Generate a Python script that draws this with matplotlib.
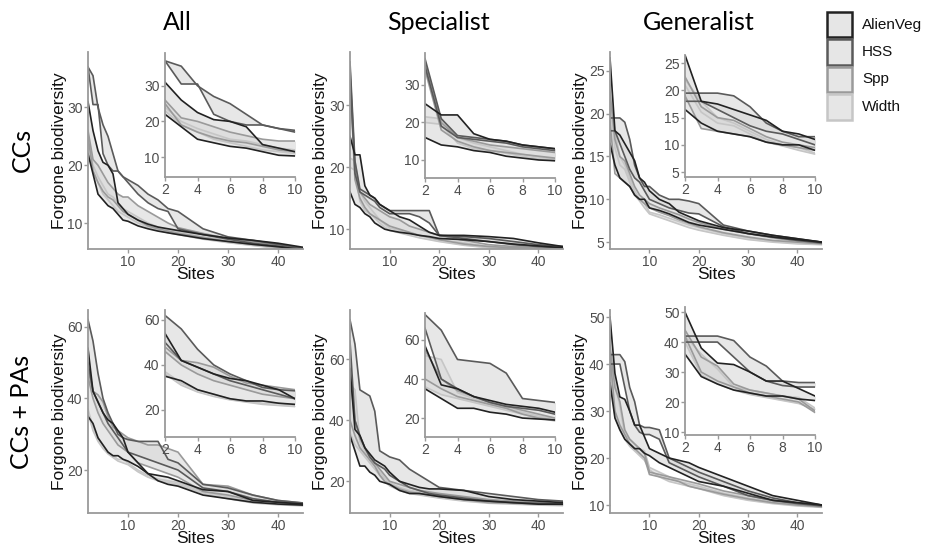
import matplotlib
matplotlib.use('Agg')
import matplotlib.pyplot as plt
from matplotlib.patches import Rectangle

# -------------------------------------------------------------------------------------------------------------------- #
# DATA (upper / lower edge of each ribbon)

sites = [2, 3, 4, 5, 6, 7, 8, 9, 10, 12, 14, 16, 18, 20, 25, 30, 35, 40, 45]
methods = ['AlienVeg', 'HSS', 'Spp', 'Width']
col_titles = ['All', 'Specialist', 'Generalist']
row_titles = ['CCs', 'CCs + PAs']

# All - CCs
all_ccs_alien_hi = [31, 26, 22.5, 20.5, 20, 18.5, 13.5, 12.5, 11.5, 10.5, 9.8, 9.3, 9, 8.7, 8, 7.4, 7, 6.5, 5.8]
all_ccs_alien_lo = [22, 18.5, 15, 14, 13, 12.5, 11.5, 10.5, 10.3, 9.5, 9, 8.6, 8.3, 8, 7.3, 6.8, 6.3, 5.9, 5.4]
all_ccs_hss_hi = [37, 35.5, 30, 27, 25, 22, 19, 18, 17.5, 16.5, 15, 14, 12.5, 12, 9, 7.6, 7, 6.3, 5.6]
all_ccs_hss_lo = [37, 30.5, 30.5, 22, 20, 19, 19, 18, 17, 15, 13.5, 12.5, 12, 9, 8, 7.2, 6.5, 6, 5.3]
all_ccs_spp_hi = [26, 21, 20, 18.5, 17, 16, 15, 14.5, 14.5, 13, 12, 11, 10, 9.2, 8.2, 7.3, 6.8, 6.2, 5.5]
all_ccs_spp_lo = [25, 19, 17, 15.5, 14.5, 14, 13, 12, 11.5, 10.5, 9.5, 9, 8.6, 8.2, 7.5, 6.8, 6.3, 5.8, 5.3]
all_ccs_width_hi = [24, 20, 18, 16.5, 15, 14.5, 13.5, 12.5, 12, 11, 10, 9.3, 8.8, 8.4, 7.6, 7, 6.4, 5.9, 5.3]
all_ccs_width_lo = [23, 19, 17, 15, 14, 13, 12, 11.5, 11, 10, 9.3, 8.8, 8.3, 8, 7.2, 6.6, 6.1, 5.6, 5.1]

# Specialist - CCs
spe_ccs_alien_hi = [25, 22, 22, 17, 15.5, 15, 14, 13.5, 13, 12, 11.5, 10.5, 9.5, 9, 9, 8.8, 8.5, 7.8, 7.2]
spe_ccs_alien_lo = [16, 14, 13.5, 12.5, 12, 11, 10.5, 10, 9.8, 9.5, 9.3, 9, 8.8, 8.5, 8.3, 8, 7.6, 7.3, 7]
spe_ccs_hss_hi = [37, 21, 16.5, 16, 15.5, 15, 14, 13.5, 13, 13, 13, 13, 13, 9, 8.8, 8.5, 8, 7.5, 7.2]
spe_ccs_hss_lo = [35, 19, 16, 15.5, 15, 14.5, 13.5, 13, 12.5, 12.5, 12.5, 12, 11, 9, 8.5, 8, 7.5, 7.2, 7]
spe_ccs_spp_hi = [36, 20, 16, 15, 14, 13.5, 13, 12.5, 12, 11.5, 10.5, 10, 9.5, 9, 8.2, 7.5, 7.2, 7, 7]
spe_ccs_spp_lo = [34, 18, 15, 13.5, 12.5, 12, 11.5, 11, 10.5, 10, 9.5, 9, 8.7, 8.3, 7.6, 7.2, 7, 7, 7]
spe_ccs_width_hi = [21.5, 21, 16, 14.5, 13.5, 12.5, 11.5, 10.8, 10.2, 9.8, 9.4, 9, 8.6, 8.3, 7.8, 7.2, 7, 7, 7]
spe_ccs_width_lo = [20, 19.5, 14.5, 13, 12.5, 11.8, 11, 10.3, 9.8, 9.4, 9, 8.6, 8.3, 8, 7.4, 7, 6.9, 6.9, 6.9]

# Generalist - CCs
gen_ccs_alien_hi = [26.5, 18, 17.5, 16.5, 15.5, 14.5, 12.5, 12, 11, 10, 9.5, 8.5, 8, 7.5, 6.7, 6.3, 5.8, 5.4, 5]
gen_ccs_alien_lo = [16.5, 14, 12.5, 12, 11.5, 10.5, 10, 10, 9, 8.7, 8.3, 7.8, 7.3, 7, 6.5, 6, 5.6, 5.3, 5]
gen_ccs_hss_hi = [19.5, 19.5, 19.5, 19, 17, 14, 12.5, 11.5, 11.5, 10.5, 10, 10, 9.8, 9.5, 7, 6.3, 5.8, 5.4, 5]
gen_ccs_hss_lo = [18, 18, 16.5, 15, 13.5, 12.5, 12, 11, 10, 9.5, 9, 8.7, 8.4, 8.3, 6.8, 6, 5.6, 5.2, 4.9]
gen_ccs_spp_hi = [22.5, 17, 15, 14.5, 13, 11.5, 10.5, 10, 9.5, 9, 8.6, 8.2, 7.7, 7.3, 6.5, 6, 5.5, 5.1, 4.9]
gen_ccs_spp_lo = [19, 13, 12.5, 12, 11.5, 10.5, 10, 9.5, 9, 8.5, 8.1, 7.6, 7.2, 6.8, 6.1, 5.6, 5.2, 5, 4.8]
gen_ccs_width_hi = [22, 18, 15, 14, 12.5, 11, 10, 9.5, 8.5, 8.2, 7.8, 7.4, 7, 6.7, 6, 5.5, 5.1, 4.9, 4.8]
gen_ccs_width_lo = [21, 16, 14, 13.5, 12, 10.5, 9.8, 9, 8.3, 7.9, 7.5, 7.1, 6.7, 6.4, 5.8, 5.3, 5, 4.8, 4.7]

# All - CCs + PAs
all_pas_alien_hi = [54, 42, 39, 36, 34, 33, 31, 29, 25, 22, 19, 18.5, 18, 17, 14.5, 14, 11.5, 11, 10.5]
all_pas_alien_lo = [35, 33, 29, 27, 25, 24, 24, 23, 22.5, 21, 19, 17, 16, 15.5, 13, 12, 11, 10.5, 10.2]
all_pas_hss_hi = [62, 56, 47, 40, 36, 33, 30, 29, 28.5, 28, 28, 28, 23, 22, 16, 15, 13, 11.5, 10.8]
all_pas_hss_lo = [50, 42, 39, 36, 33, 31, 29, 27, 25, 24, 23, 22, 21, 20, 15, 14, 12, 11, 10.5]
all_pas_spp_hi = [48, 42, 41, 39, 35, 32, 31, 30, 29, 28, 27, 27, 26, 25, 16, 15.5, 13, 11.5, 10.8]
all_pas_spp_lo = [46, 40, 36, 33, 31, 29, 27, 26, 25, 22, 21, 20, 19, 18, 14, 13, 11.5, 11, 10.5]
all_pas_width_hi = [37, 32, 29, 27, 25, 24, 23, 23, 22, 20, 18.5, 17.5, 17, 16.5, 14, 12.5, 11, 10.5, 10.3]
all_pas_width_lo = [36, 31, 28, 26, 24.5, 23.5, 22.5, 22, 21.5, 19.5, 18, 17, 16.5, 16, 13.5, 12, 10.8, 10.3, 10]

# Specialist - CCs + PAs
spe_pas_alien_hi = [57, 37, 35, 31, 29, 27, 26, 25, 23, 20, 19, 18, 17.5, 17.5, 17, 15, 14, 13.5, 13]
spe_pas_alien_lo = [35, 30, 25, 25, 23, 22, 20, 19.5, 19, 17, 16, 16, 15.5, 15, 14, 13.5, 13, 12.5, 12.5]
spe_pas_hss_hi = [73, 65, 50, 49, 48, 43, 30, 29, 28, 27, 24, 22, 20, 18, 17, 16, 15, 14, 13.5]
spe_pas_hss_lo = [66, 40, 35, 31, 28, 26, 25, 24, 22, 20, 18, 17, 16, 15.5, 14.5, 13.5, 13, 12.8, 12.5]
spe_pas_spp_hi = [55, 40, 34, 31, 28, 26, 24, 22, 20, 19, 18, 17, 16.5, 16, 15, 14, 13.5, 13, 12.8]
spe_pas_spp_lo = [40, 35, 31, 29, 27, 25, 22, 20, 19, 17.5, 16.5, 16, 15.5, 15, 14, 13, 12.8, 12.5, 12.3]
spe_pas_width_hi = [52, 50, 33, 30, 27, 25, 23, 21, 19.5, 18, 17, 16.5, 16, 15.5, 14.5, 13.5, 13, 12.6, 12.4]
spe_pas_width_lo = [36, 32, 30, 28, 26, 24, 22, 20, 18.5, 17, 16, 15.5, 15, 14.5, 13.5, 12.8, 12.5, 12.2, 12]

# Generalist - CCs + PAs
gen_pas_alien_hi = [50, 38, 33, 32.5, 30, 27, 27, 24.5, 22, 21, 20, 19.5, 19, 18, 16, 14, 12, 11, 10]
gen_pas_alien_lo = [36, 28.5, 26, 24, 23, 22, 22, 21, 20.5, 19, 18, 17, 16, 15, 14, 12.5, 11, 10.5, 10]
gen_pas_hss_hi = [42, 42, 42, 40.5, 35, 32, 27, 26.5, 26.5, 26, 20, 19, 18, 17, 15, 13, 11.5, 10.5, 10]
gen_pas_hss_lo = [40, 40, 40, 35, 30, 27, 25.5, 25, 25, 24, 19, 18, 17, 16, 14, 12, 11, 10.3, 9.8]
gen_pas_spp_hi = [44, 35, 32, 26, 24, 23, 22, 21, 17, 16.5, 16, 15.5, 15, 14.5, 13, 12, 11, 10.3, 9.8]
gen_pas_spp_lo = [42, 30, 27, 25, 23, 22, 21, 20, 16.5, 16, 15.5, 15, 14, 13.5, 12.3, 11.3, 10.5, 10, 9.6]
gen_pas_width_hi = [42, 36, 31, 25, 24, 23, 22, 21.5, 18, 17, 16, 15, 14.5, 14, 12.5, 11.5, 10.7, 10.1, 9.7]
gen_pas_width_lo = [40, 29, 26, 24, 22.5, 21.5, 20.5, 19.5, 17.5, 16, 15, 14.5, 14, 13.5, 12, 11, 10.3, 9.8, 9.5]

main_xticks = [10, 20, 30, 40]
inset_xticks = [2, 4, 6, 8, 10]
yticks = [[[10, 20, 30], [10, 20, 30], [5, 10, 15, 20, 25]],
          [[20, 40, 60], [20, 40, 60], [10, 20, 30, 40, 50]]]

# -------------------------------------------------------------------------------------------------------------------- #
# PANELS

panels = [
    [[(all_ccs_alien_hi, all_ccs_alien_lo), (all_ccs_hss_hi, all_ccs_hss_lo),
      (all_ccs_spp_hi, all_ccs_spp_lo), (all_ccs_width_hi, all_ccs_width_lo)],
     [(spe_ccs_alien_hi, spe_ccs_alien_lo), (spe_ccs_hss_hi, spe_ccs_hss_lo),
      (spe_ccs_spp_hi, spe_ccs_spp_lo), (spe_ccs_width_hi, spe_ccs_width_lo)],
     [(gen_ccs_alien_hi, gen_ccs_alien_lo), (gen_ccs_hss_hi, gen_ccs_hss_lo),
      (gen_ccs_spp_hi, gen_ccs_spp_lo), (gen_ccs_width_hi, gen_ccs_width_lo)]],
    [[(all_pas_alien_hi, all_pas_alien_lo), (all_pas_hss_hi, all_pas_hss_lo),
      (all_pas_spp_hi, all_pas_spp_lo), (all_pas_width_hi, all_pas_width_lo)],
     [(spe_pas_alien_hi, spe_pas_alien_lo), (spe_pas_hss_hi, spe_pas_hss_lo),
      (spe_pas_spp_hi, spe_pas_spp_lo), (spe_pas_width_hi, spe_pas_width_lo)],
     [(gen_pas_alien_hi, gen_pas_alien_lo), (gen_pas_hss_hi, gen_pas_hss_lo),
      (gen_pas_spp_hi, gen_pas_spp_lo), (gen_pas_width_hi, gen_pas_width_lo)]],
]

line_colors = ['#222222', '#5a5a5a', '#9a9a9a', '#c6c6c6']
fill_color = '#d8d8d8'
axis_color = '#9a9a9a'
tick_color = '#4d4d4d'

W, H = 936, 547
main_x = [(88, 303), (350, 563), (610, 822)]
main_y = [(52, 249), (310, 513)]
inset_x = [(165, 295), (425, 555), (685, 815)]
inset_y = [[(53, 177), (53, 178), (55, 177)], [(310, 437), (313, 437), (307, 435)]]
main_ylim = [[(5.5, 39.6), (6.8, 38.6), (4.2, 27.2)], [(8, 64.7), (9.6, 76.2), (8.3, 51.5)]]
inset_ylim = [[(4.4, 39.2), (5.2, 38.5), (4.1, 26.5)], [(8, 64.4), (10.3, 73.8), (9, 51.7)]]
ylab_x = [60, 321, 580]

plt.rcParams['font.family'] = ['Liberation Sans', 'DejaVu Sans']


def px_axes(fig, x0, x1, y0, y1):
    return fig.add_axes([x0 / W, 1 - y1 / H, (x1 - x0) / W, (y1 - y0) / H])


def style(ax, xticks, yt, fs):
    for s in ['top', 'right']:
        ax.spines[s].set_visible(False)
    for s in ['left', 'bottom']:
        ax.spines[s].set_color(axis_color)
        ax.spines[s].set_linewidth(1.3)
    ax.set_xticks(xticks)
    ax.set_yticks(yt)
    ax.tick_params(colors=axis_color, labelcolor=tick_color, labelsize=fs, length=3, width=1, pad=1)


def draw(ax, ribbons):
    for (hi, lo), c in zip(ribbons, line_colors):
        ax.fill_between(sites, lo, hi, color=fill_color, alpha=0.6, lw=0)
    for (hi, lo), c in reversed(list(zip(ribbons, line_colors))):
        ax.plot(sites, hi, color=c, lw=1.2)
        ax.plot(sites, lo, color=c, lw=1.2)


fig = plt.figure(figsize=(W / 100, H / 100), dpi=100)

for r in range(2):
    for c in range(3):
        ax = px_axes(fig, *main_x[c], *main_y[r])
        draw(ax, panels[r][c])
        ax.set_xlim(2, 45)
        ax.set_ylim(*main_ylim[r][c])
        style(ax, main_xticks, yticks[r][c], 10)
        ax.set_xlabel('Sites', fontsize=12.5, labelpad=-1, color='#111111')
        fig.text(ylab_x[c] / W, 1 - sum(main_y[r]) / 2 / H, 'Forgone biodiversity', rotation=90,
                 ha='center', va='center', fontsize=12.5, color='#111111')

        ins = px_axes(fig, *inset_x[c], *inset_y[r][c])
        ins.set_facecolor('white')
        draw(ins, panels[r][c])
        ins.set_xlim(2, 10)
        ins.set_ylim(*inset_ylim[r][c])
        style(ins, inset_xticks, yticks[r][c], 10)

title_x = [177, 438, 699]
for c in range(3):
    fig.text(title_x[c] / W, 1 - 22 / H, col_titles[c], ha='center', va='center',
             fontsize=18, family=['Lato', 'DejaVu Sans'])
for r, yc in enumerate([150, 412]):
    fig.text(22 / W, 1 - yc / H, row_titles[r], ha='center', va='center', rotation=90,
             fontsize=18, family=['Lato', 'DejaVu Sans'])

# legend
for i, (m, c) in enumerate(zip(methods, line_colors)):
    y0 = 12 + i * 27.5
    fig.patches.append(Rectangle((827 / W, 1 - (y0 + 25) / H), 25 / W, 25 / H, transform=fig.transFigure,
                                 facecolor='#e6e6e6', edgecolor=c, lw=1.8))
    fig.text(862 / W, 1 - (y0 + 12.5) / H, m, ha='left', va='center', fontsize=11, color='#111111')

plt.savefig('out.png', dpi=100)
